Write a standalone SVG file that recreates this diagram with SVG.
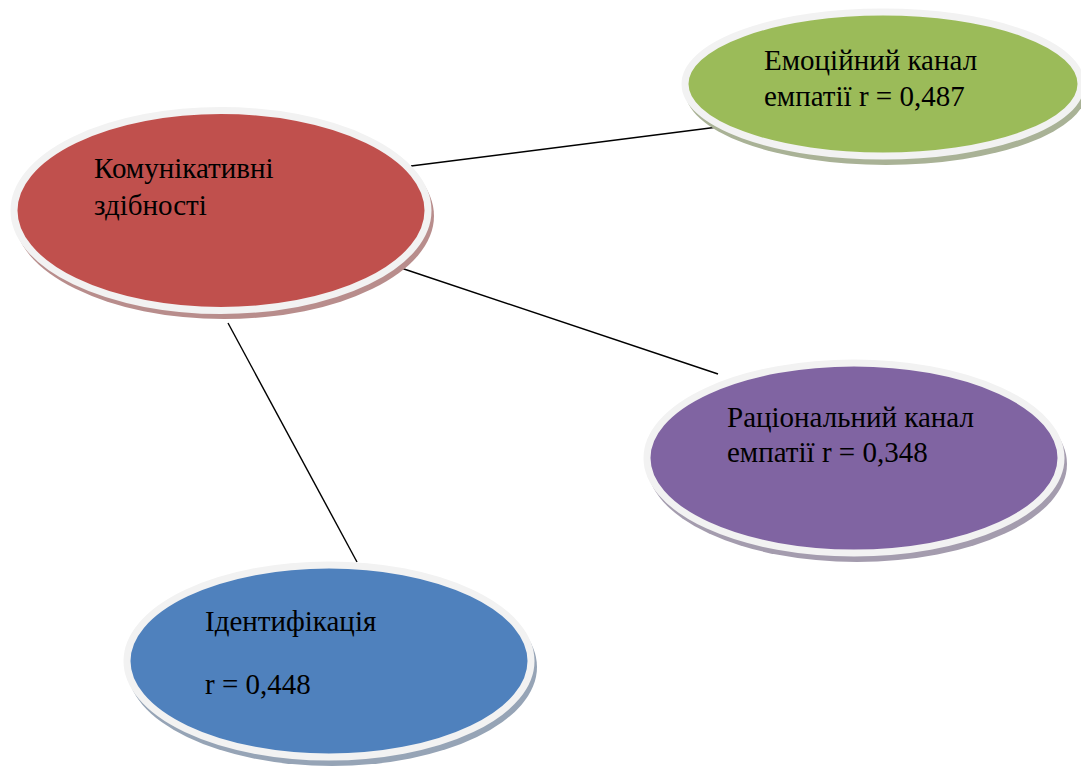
<svg xmlns="http://www.w3.org/2000/svg" width="1081" height="767" viewBox="0 0 1081 767">
<style>
.rim{stroke:#F2F2F2;stroke-width:7}
.lbl{font-family:"Liberation Serif","Times New Roman",serif;font-size:29px;fill:#000}
.conn line{stroke:#000;stroke-width:1.4}
</style>
<rect width="1081" height="767" fill="#fff"/>
<g class="conn">
<line x1="411" y1="166" x2="718" y2="127"/>
<line x1="401" y1="268" x2="718" y2="374"/>
<line x1="228" y1="323" x2="357" y2="562"/>
</g>
<g id="n-komunikatyvni">
<ellipse cx="224" cy="216" rx="210" ry="103" fill="#B88D8C"/>
<ellipse cx="221" cy="210.5" rx="207" ry="100" fill="#C0504D" class="rim"/>
<text class="lbl" x="94" y="178">Комунікативні</text>
<text class="lbl" x="94" y="215">здібності</text>
</g>
<g id="n-emotsiinyi">
<ellipse cx="886" cy="90" rx="201" ry="75" fill="#A9B296"/>
<ellipse cx="883" cy="84" rx="198" ry="72" fill="#9BBB59" class="rim"/>
<text class="lbl" x="764" y="70">Емоційний канал</text>
<text class="lbl" x="764" y="106">емпатії r = 0,487</text>
</g>
<g id="n-ratsionalnyi">
<ellipse cx="857" cy="464" rx="210" ry="98" fill="#A49CAE"/>
<ellipse cx="854" cy="458" rx="207" ry="95" fill="#8064A2" class="rim"/>
<text class="lbl" x="727" y="427">Раціональний канал</text>
<text class="lbl" x="727" y="462">емпатії r = 0,348</text>
</g>
<g id="n-identyfikatsiia">
<ellipse cx="332" cy="667" rx="205" ry="99" fill="#96A4B6"/>
<ellipse cx="329" cy="661" rx="202" ry="96" fill="#4F81BD" class="rim"/>
<text class="lbl" x="205" y="631">Ідентифікація</text>
<text class="lbl" x="205" y="694">r = 0,448</text>
</g>
</svg>
